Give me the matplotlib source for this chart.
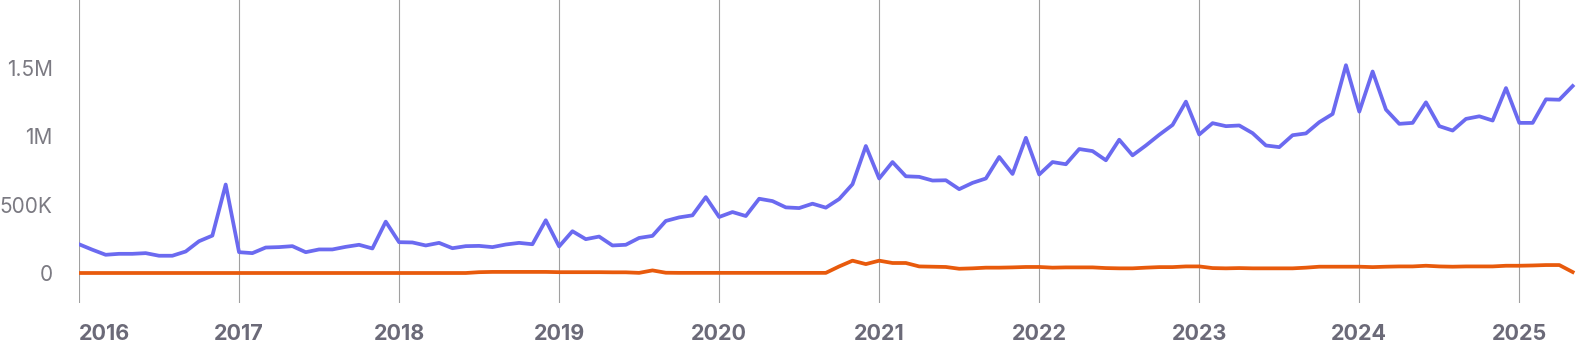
import matplotlib
matplotlib.use("Agg")
import matplotlib.pyplot as plt
from matplotlib.ticker import FuncFormatter

plt.rcParams['font.family'] = ['Inter', 'DejaVu Sans']

# monthly values, Jan 2016 .. May 2025
blue_vals = [
    210, 170, 133, 140, 140, 145, 126, 126, 157, 232, 273, 646,  # 2016
    152, 145, 186, 189, 196, 152, 172, 172, 191, 206, 179, 375,  # 2017
    225, 223, 201, 220, 181, 196, 198, 189, 208, 220, 210, 385,  # 2018
    194, 305, 247, 266, 201, 206, 256, 271, 380, 406, 421, 554,  # 2019
    409, 445, 416, 542, 525, 479, 474, 506, 477, 540, 648, 927,  # 2020
    690, 810, 706, 702, 675, 677, 612, 658, 690, 847, 723, 987,  # 2021
    719, 810, 794, 905, 890, 823, 973, 859, 931, 1009, 1081, 1251,  # 2022
    1011, 1094, 1072, 1077, 1021, 931, 919, 1006, 1019, 1101, 1161, 1517,  # 2023
    1178, 1471, 1193, 1089, 1096, 1246, 1072, 1040, 1125, 1144, 1113, 1350,  # 2024
    1096, 1096, 1268, 1265, 1365,  # 2025
]
orange_vals = [
    0, 0, 0, 0, 0, 0, 0, 0, 0, 0, 0, 0,
    0, 0, 0, 0, 0, 0, 0, 0, 0, 0, 0, 0,
    0, 0, 0, 0, 0, 0, 6, 8, 8, 8, 8, 8,
    6, 6, 6, 6, 5, 5, 1, 19, 2, 1, 1, 1,
    1, 1, 1, 1, 1, 1, 1, 1, 1, 48, 90, 65,
    90, 73, 73, 48, 46, 44, 31, 34, 39, 39, 41, 44,
    44, 39, 41, 41, 41, 36, 34, 34, 39, 43, 43, 48,
    48, 36, 34, 36, 34, 34, 34, 34, 39, 46, 46, 46,
    46, 43, 46, 48, 48, 53, 48, 46, 48, 48, 48, 53,
    53, 55, 58, 58, 7,
]
years = ['2016', '2017', '2018', '2019', '2020', '2021', '2022', '2023', '2024', '2025']

months = list(range(len(blue_vals)))
blue = [v * 1000 for v in blue_vals]
orange = [v * 1000 for v in orange_vals]

W, H = 1582, 355
fig = plt.figure(figsize=(W / 100, H / 100), dpi=100)
ax = fig.add_axes([79 / W, (H - 303) / H, 1 - 79 / W, 303 / H])

ax.plot(months, blue, color='#6b6af0', linewidth=2.7, zorder=3)
ax.plot(months, orange, color='#e85a0c', linewidth=2.7, zorder=4)

ax.set_xlim(0, 112.7)
ax.set_ylim(-219000, 1993000)

ax.set_xticks([12 * i for i in range(len(years))])
ax.set_xticklabels(years)
ax.set_yticks([0, 500000, 1000000, 1500000])

def fmt(v, pos):
    if v >= 1e6:
        s = f"{v / 1e6:.1f}".rstrip('0').rstrip('.')
        return s + "M"
    if v >= 1e3:
        return f"{int(v / 1e3)}K"
    return "0"

ax.yaxis.set_major_formatter(FuncFormatter(fmt))

ax.grid(axis='x', color='#a0a0a0', linewidth=0.8)
ax.set_axisbelow(True)
for s in ax.spines.values():
    s.set_visible(False)

ax.tick_params(axis='y', length=0, pad=19, labelsize=15, labelcolor='#7b7a82')
ax.tick_params(axis='x', length=0, pad=15, labelsize=15.5, labelcolor='#6b6a78')
for lab in ax.get_xticklabels():
    lab.set_fontweight('bold')
ax.get_xticklabels()[0].set_horizontalalignment('left')

fig.savefig('out.png', dpi=100)
